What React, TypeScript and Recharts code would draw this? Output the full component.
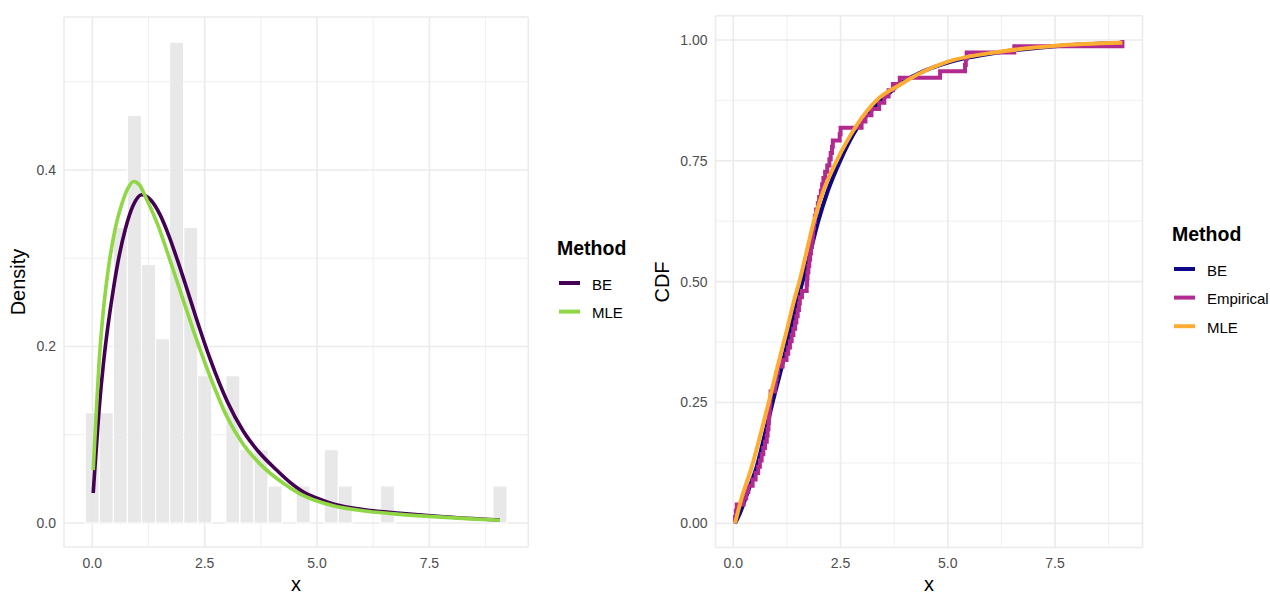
import React from "react";
import { ComposedChart, Line, XAxis, YAxis, CartesianGrid, ReferenceArea, ReferenceLine } from "recharts";

const FONT = "'Liberation Sans', Arial, Helvetica, sans-serif";

// histogram of the sample (30 bins, density scale)
const binWidth = 0.3127;
const binCenters = [0, 0.313, 0.625, 0.938, 1.251, 1.564, 1.876, 2.189, 2.502, 2.814, 3.127, 3.44, 3.752, 4.065, 4.378, 4.69, 5.003, 5.316, 5.629, 5.941, 6.254, 6.567, 6.88, 7.192, 7.505, 7.818, 8.131, 8.443, 8.756, 9.069];
const binDensity = [0.125, 0.125, 0.335, 0.462, 0.293, 0.209, 0.545, 0.335, 0.167, 0, 0.167, 0.083, 0.083, 0.042, 0, 0.042, 0, 0.083, 0.042, 0, 0, 0.042, 0, 0, 0, 0, 0, 0, 0, 0.042];

// fitted densities
const beDensity = [
  [0.02, 0.034], [0.07, 0.072], [0.15, 0.128], [0.25, 0.182], [0.35, 0.224], [0.45, 0.259], [0.55, 0.29],
  [0.74, 0.334], [0.91, 0.36], [1.1, 0.372], [1.3, 0.366], [1.5, 0.35], [1.7, 0.326], [1.9, 0.297],
  [2.1, 0.266], [2.3, 0.234], [2.62, 0.186], [3.0, 0.138], [3.36, 0.104], [3.73, 0.079], [4.1, 0.06],
  [4.4, 0.046], [4.7, 0.035], [5.0, 0.028], [5.36, 0.0215], [6.1, 0.0147], [6.85, 0.011], [7.6, 0.0079],
  [8.33, 0.0053], [9.07, 0.0034],
];
const mleDensity = [
  [0.02, 0.06], [0.07, 0.108], [0.15, 0.182], [0.24, 0.238], [0.37, 0.293], [0.52, 0.336], [0.66, 0.362],
  [0.8, 0.38], [0.92, 0.387], [1.05, 0.383], [1.18, 0.37], [1.44, 0.34], [1.74, 0.296], [2.04, 0.25],
  [2.25, 0.218], [2.62, 0.166], [3.0, 0.12], [3.36, 0.089], [3.73, 0.067], [4.25, 0.045], [4.62, 0.033],
  [5.36, 0.0195], [6.11, 0.0134], [6.85, 0.0098], [7.59, 0.0072], [8.33, 0.005], [9.07, 0.0032],
];

// fitted CDFs
const beCdf = [
  [0.04, 0.0], [0.15, 0.02], [0.27, 0.048], [0.4, 0.08], [0.545, 0.117], [0.74, 0.186], [0.93, 0.255],
  [1.13, 0.324], [1.31, 0.393], [1.5, 0.462], [1.75, 0.545], [1.98, 0.625], [2.2, 0.687], [2.49, 0.75],
  [2.9, 0.82], [3.46, 0.875], [3.9, 0.91], [4.35, 0.932], [5.0, 0.953], [6.25, 0.975], [7.5, 0.987], [9.07, 0.994],
];
const mleCdf = [
  [0.04, 0.0], [0.18, 0.048], [0.43, 0.117], [0.64, 0.186], [0.84, 0.255], [1.03, 0.324], [1.23, 0.393],
  [1.42, 0.462], [1.54, 0.5], [1.88, 0.625], [2.1, 0.688], [2.41, 0.75], [2.85, 0.82], [3.36, 0.877],
  [3.88, 0.907], [4.35, 0.931], [5.0, 0.955], [6.25, 0.976], [7.5, 0.988], [9.07, 0.994],
];

const sample = [
  0.04, 0.06, 0.08,
  0.24, 0.3, 0.35,
  0.45, 0.52, 0.58,
  0.62, 0.66,
  0.7, 0.74, 0.78,
  0.8, 0.82, 0.83, 0.84, 0.85, 0.86, 0.87,
  0.97, 0.99, 1.01, 1.04,
  1.15,
  1.24, 1.28, 1.32, 1.36, 1.4, 1.44, 1.47,
  1.5, 1.53, 1.55,
  1.6,
  1.71, 1.72, 1.73, 1.75,
  1.77, 1.79, 1.81, 1.83,
  1.85, 1.86, 1.88, 1.9,
  1.93, 1.97,
  2.0, 2.04,
  2.07, 2.1,
  2.14, 2.19, 2.24,
  2.27, 2.3, 2.32,
  2.48, 2.5,
  2.99, 3.08, 3.22,
  3.4,
  3.52,
  3.62, 3.72,
  3.88,
  4.82,
  5.4, 5.42, 5.44,
  6.55,
  9.07,
];

const xTicks = [0, 2.5, 5, 7.5];
const xMinor = [1.25, 3.75, 6.25, 8.75];
const densTicks = [0, 0.2, 0.4];
const densMinor = [0.1, 0.3, 0.5];
const cdfTicks = [0, 0.25, 0.5, 0.75, 1];
const cdfMinor = [0.125, 0.375, 0.625, 0.875];

const densitySeries = [
  { name: "BE", color: "#440154", pts: beDensity },
  { name: "MLE", color: "#8FD744", pts: mleDensity },
];

const ecdf = [[sample[0], 0], ...sample.map((x, i) => [x, (i + 1) / sample.length])];

const cdfSeries = [
  { name: "BE", color: "#0D0887", pts: beCdf, step: false },
  { name: "Empirical", color: "#B12A90", pts: ecdf, step: true },
  { name: "MLE", color: "#FDAE32", pts: mleCdf, step: false },
];

const rows = (pts: number[][]) => pts.map(([x, y]) => ({ x, y }));

const GRID = "#EBEBEB";
const tickStyle = { fill: "#4D4D4D", fontSize: 14, fontFamily: FONT };

const minorLines = (xs: number[], ys: number[]) => [
  ...xs.map((v) => <ReferenceLine key={"mx" + v} x={v} stroke={GRID} strokeWidth={0.8} />),
  ...ys.map((v) => <ReferenceLine key={"my" + v} y={v} stroke={GRID} strokeWidth={0.8} />),
];

const Legend = (props: any) => (
  <g>
    <text x={props.x} y={props.y} fontSize={19.5} fontWeight="bold" fontFamily={FONT} fill="#000">Method</text>
    {props.items.map((s: any, i: number) => (
      <g key={s.name}>
        <line x1={props.x + 2} x2={props.x + 23} y1={props.y + 28 + i * 28.6} y2={props.y + 28 + i * 28.6} stroke={s.color} strokeWidth={4} />
        <text x={props.x + 35} y={props.y + 34.5 + i * 28.6} fontSize={15} fontFamily={FONT} fill="#000">{s.name}</text>
      </g>
    ))}
  </g>
);

const App = () => {
  return (
    <div style={{ position: "absolute", left: 0, top: 0, width: 1270, height: 595, background: "#fff" }}>
      <div style={{ position: "absolute", left: 0, top: 0 }}>
        <ComposedChart width={540} height={595} margin={{ top: 17, right: 11.7, bottom: 0, left: 0 }}>
          <CartesianGrid stroke={GRID} strokeWidth={1.6} />
          {minorLines(xMinor, densMinor)}
          {binCenters.map((c, i) =>
            binDensity[i] > 0 ? (
              <ReferenceArea key={i} x1={c - binWidth / 2} x2={c + binWidth / 2} y1={0} y2={binDensity[i]}
                fill="#E6E6E6" fillOpacity={0.9} stroke="#fff" strokeWidth={1.2} />
            ) : null
          )}
          <XAxis type="number" dataKey="x" domain={[-0.63, 9.7]} allowDataOverflow ticks={xTicks}
            tickFormatter={(v: number) => v.toFixed(1)} axisLine={false} tickLine={false} height={48}
            tickMargin={5} tick={tickStyle} />
          <YAxis type="number" domain={[-0.0272, 0.5734]} allowDataOverflow ticks={densTicks}
            tickFormatter={(v: number) => v.toFixed(1)} axisLine={false} tickLine={false} width={64} tick={tickStyle} />
          {densitySeries.map((s) => (
            <Line key={s.name} data={rows(s.pts)} dataKey="y" type="monotone" stroke={s.color} strokeWidth={3.6}
              dot={false} isAnimationActive={false} />
          ))}
        </ComposedChart>
      </div>
      <div style={{ position: "absolute", left: 650, top: 0 }}>
        <ComposedChart width={500} height={595} margin={{ top: 15.8, right: 7.5, bottom: 0, left: 0 }}>
          <CartesianGrid stroke={GRID} strokeWidth={1.6} />
          {minorLines(xMinor, cdfMinor)}
          <XAxis type="number" dataKey="x" domain={[-0.415, 9.538]} allowDataOverflow ticks={xTicks}
            tickFormatter={(v: number) => v.toFixed(1)} axisLine={false} tickLine={false} height={47.5}
            tickMargin={5} tick={tickStyle} />
          <YAxis type="number" domain={[-0.05, 1.05]} allowDataOverflow ticks={cdfTicks}
            tickFormatter={(v: number) => v.toFixed(2)} axisLine={false} tickLine={false} width={65.5} tick={tickStyle} />
          {cdfSeries.map((s) => (
            <Line key={s.name} data={rows(s.pts)} dataKey="y" type={s.step ? "stepAfter" : "monotone"} stroke={s.color}
              strokeWidth={4} dot={false} isAnimationActive={false} />
          ))}
        </ComposedChart>
      </div>
      <svg width={1270} height={595} style={{ position: "absolute", left: 0, top: 0, pointerEvents: "none" }}>
        <text x={25} y={282} transform="rotate(-90 25 282)" textAnchor="middle" fontSize={20} fontFamily={FONT} fill="#000">Density</text>
        <text x={296} y={591} textAnchor="middle" fontSize={20} fontFamily={FONT} fill="#000">x</text>
        <text x={669} y={282} transform="rotate(-90 669 282)" textAnchor="middle" fontSize={20} fontFamily={FONT} fill="#000">CDF</text>
        <text x={929} y={591} textAnchor="middle" fontSize={20} fontFamily={FONT} fill="#000">x</text>
        <Legend x={557} y={255} items={densitySeries} />
        <Legend x={1172} y={241} items={cdfSeries} />
      </svg>
    </div>
  );
};

export default App;
